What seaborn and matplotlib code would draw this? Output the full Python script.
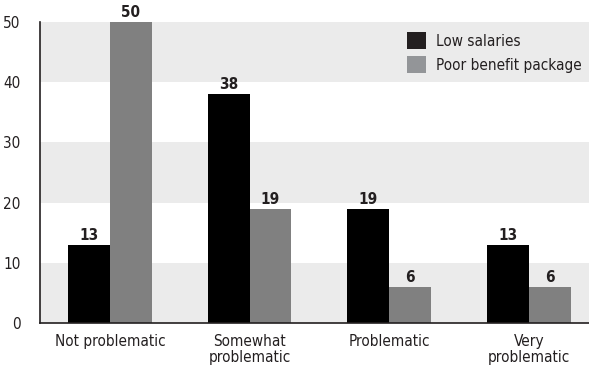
import matplotlib
matplotlib.use("Agg")
import matplotlib.pyplot as plt
from matplotlib.patches import Patch
import seaborn as sns
import pandas as pd

categories = ["Not problematic", "Somewhat\nproblematic", "Problematic", "Very\nproblematic"]
low_salaries = [13, 38, 19, 13]
poor_benefits = [50, 19, 6, 6]
series_names = ["Low salaries", "Poor benefit package"]
y_ticks = [0, 10, 20, 30, 40, 50]

sns.set_theme(style="white")
plt.rcParams["font.family"] = ["DejaVu Sans"]
plt.rcParams["font.stretch"] = "condensed"
text_color = "#231f20"

df = pd.DataFrame({
    "category": categories * 2,
    "series": [series_names[0]] * 4 + [series_names[1]] * 4,
    "value": low_salaries + poor_benefits,
})

fig = plt.figure(figsize=(5.89, 3.73), dpi=100)
ax = fig.add_axes([40 / 589, 50 / 373, 1 - 40 / 589, 301 / 373])

# alternating horizontal bands
for lo in range(0, 50, 20):
    ax.axhspan(lo, lo + 10, color="#ebebeb", lw=0, zorder=0)

sns.barplot(data=df, x="category", y="value", hue="series",
            palette=["#000000", "#808080"], width=0.6, ax=ax,
            saturation=1, legend=False, linewidth=0, zorder=2)

for cont in ax.containers:
    ax.bar_label(cont, fmt="%d", padding=1.5, fontsize=11, fontweight="bold",
                 color=text_color)

ax.set_ylim(0, 50)
ax.set_xlim(-0.5, 3.43)
ax.set_yticks(y_ticks)
ax.set_xlabel("")
ax.set_ylabel("")
for s in ["top", "right"]:
    ax.spines[s].set_visible(False)
for s in ["left", "bottom"]:
    ax.spines[s].set_color(text_color)
    ax.spines[s].set_linewidth(1.2)
ax.spines["bottom"].set_zorder(5)
ax.tick_params(axis="y", length=0, pad=14, labelsize=11, labelcolor=text_color)
ax.tick_params(axis="x", which="major", length=0, pad=8, labelsize=11, labelcolor=text_color)
ax.set_xticks([0.5, 1.5, 2.5], minor=True)
ax.tick_params(axis="x", which="minor", direction="in", length=5, width=1, color=text_color)
for lbl in ax.get_xticklabels():
    lbl.set_linespacing(1.05)

handles = [Patch(facecolor="#231f20", edgecolor="none"),
           Patch(facecolor="#939598", edgecolor="none")]
ax.legend(handles, series_names, loc="upper right", bbox_to_anchor=(1.0, 0.99),
          frameon=False, fontsize=11, handlelength=1.3, handleheight=1.35,
          handletextpad=0.65, labelspacing=0.45, labelcolor=text_color,
          borderpad=0.2, borderaxespad=0.25)

fig.savefig("out.png", dpi=100)
